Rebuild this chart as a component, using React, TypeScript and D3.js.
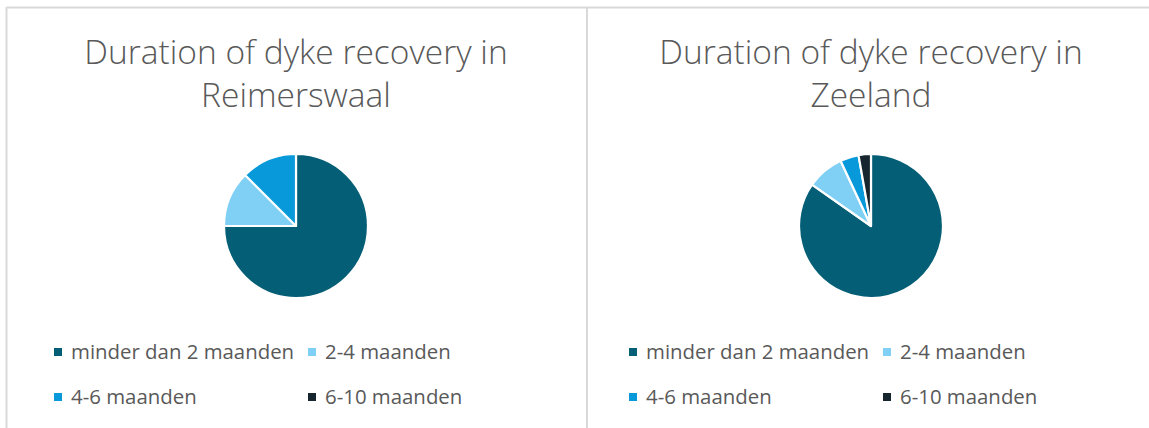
import React from "react";
import * as d3 from "d3";

// legend categories, shared by both pies
const categories = ["minder dan 2 maanden", "2-4 maanden", "4-6 maanden", "6-10 maanden"];
const colors = ["#045e76", "#80d0f6", "#0799da", "#17262e"];

// counts
const reimerswaalValues = [6, 1, 1, 0];
const zeelandValues = [61, 6, 3, 2];

const reimerswaalTitle = ["Duration of dyke recovery in", "Reimerswaal"];
const zeelandTitle = ["Duration of dyke recovery in", "Zeeland"];

const W = 1149;
const H = 428;
const panelW = 575;
const radius = 72;

function Panel({ x, title, values }: { x: number; title: string[]; values: number[] }) {
  const pie = d3.pie<number>().sort(null).value(d => d)(values);
  const arc = d3.arc<d3.PieArcDatum<number>>().innerRadius(0).outerRadius(radius);
  const cx = 296;
  const cy = 226;

  // legend grid: two columns, two rows
  const col = d3.scaleOrdinal<number, number>().domain([0, 1]).range([54, 308]);
  const row = d3.scaleOrdinal<number, number>().domain([0, 1]).range([348, 393]);

  return (
    <g transform={`translate(${x},0)`}>
      {title.map((t, i) => (
        <text key={i} x={cx} y={64 + i * 43} textAnchor="middle"
          fontFamily="'Open Sans', sans-serif" fontWeight={300} fontSize={33.5} fill="#595959">
          {t}
        </text>
      ))}
      <g transform={`translate(${cx},${cy})`}>
        {pie.map((d, i) => (
          d.value > 0 ? <path key={i} d={arc(d) || ""} fill={colors[i]} stroke="#fff" strokeWidth={2.2} strokeLinejoin="round" /> : null
        ))}
      </g>
      {categories.map((c, i) => {
        const lx = col(i % 2);
        const ly = row(Math.floor(i / 2));
        return (
          <g key={c}>
            <rect x={lx} y={ly} width={8} height={8} fill={colors[i]} />
            <text x={lx + 17} y={ly + 11} fontFamily="'Open Sans', sans-serif" fontSize={20.4} fill="#595959">
              {c}
            </text>
          </g>
        );
      })}
    </g>
  );
}

export default function App() {
  return (
    <svg width={W} height={H} style={{ position: "absolute", left: 0, top: 0, background: "#fff" }}>
      <rect x={0} y={0} width={W} height={H} fill="#fff" />
      <Panel x={0} title={reimerswaalTitle} values={reimerswaalValues} />
      <Panel x={panelW} title={zeelandTitle} values={zeelandValues} />
      {/* chart area borders */}
      <line x1={6.5} y1={7.5} x2={W} y2={7.5} stroke="#d9d9d9" strokeWidth={2} />
      <line x1={6.5} y1={7} x2={6.5} y2={H} stroke="#d9d9d9" strokeWidth={2} />
      <line x1={587} y1={7} x2={587} y2={H} stroke="#d9d9d9" strokeWidth={2} />
    </svg>
  );
}
